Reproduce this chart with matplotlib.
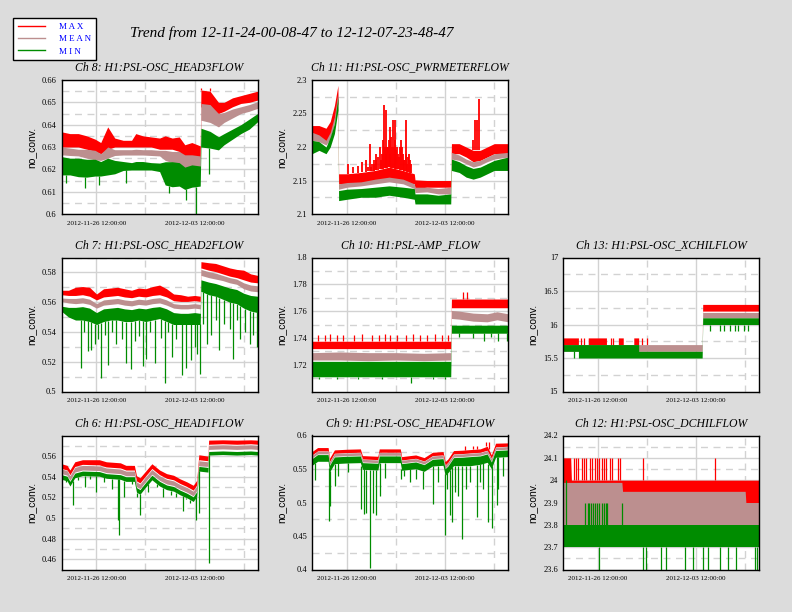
import numpy as np
import matplotlib
matplotlib.use('Agg')
import matplotlib.pyplot as plt
from matplotlib.ticker import FixedLocator, FuncFormatter
from matplotlib.lines import Line2D
from datetime import datetime

# time axis: days since start of trend
start = datetime(2012, 11, 24, 0, 8, 47)
end = datetime(2012, 12, 7, 23, 48, 47)
tick_dates = [datetime(2012, 11, 26, 12), datetime(2012, 12, 3, 12)]
tick_labels = ['2012-11-26 12:00:00', '2012-12-03 12:00:00']
minor_dates = [datetime(2012, 11, 30, 0), datetime(2012, 12, 7, 0)]

# ---- Ch 8: H1:PSL-OSC_HEAD3FLOW
ch8_t = [0, 0.6, 1.2, 1.8, 2.4, 2.8, 3.3, 3.8, 4.4, 5.0, 5.3, 5.8, 6.4, 7.0, 7.4, 7.9, 8.4, 8.8, 9.3, 9.9, 9.95, 10.6, 11.2, 11.6, 12.2, 12.8, 13.4, 13.99]
ch8_max_hi = [0.6368, 0.636, 0.636, 0.635, 0.6335, 0.632, 0.639, 0.634, 0.633, 0.633, 0.636, 0.635, 0.6345, 0.634, 0.635, 0.634, 0.6345, 0.631, 0.632, 0.6305, 0.6555, 0.655, 0.650, 0.650, 0.652, 0.653, 0.654, 0.655]
ch8_max_lo = [0.630, 0.630, 0.630, 0.629, 0.628, 0.627, 0.629, 0.630, 0.630, 0.630, 0.630, 0.630, 0.630, 0.629, 0.629, 0.629, 0.628, 0.624, 0.626, 0.625, 0.648, 0.646, 0.645, 0.646, 0.648, 0.6495, 0.650, 0.651]
ch8_mean_hi = [0.630, 0.6295, 0.629, 0.629, 0.6285, 0.627, 0.630, 0.6288, 0.6288, 0.6288, 0.629, 0.6288, 0.6288, 0.6285, 0.6285, 0.628, 0.628, 0.6265, 0.6265, 0.626, 0.6495, 0.649, 0.645, 0.6455, 0.647, 0.648, 0.649, 0.6503]
ch8_mean_lo = [0.6265, 0.6262, 0.626, 0.625, 0.6242, 0.624, 0.625, 0.6262, 0.6264, 0.6264, 0.6264, 0.6264, 0.6262, 0.626, 0.624, 0.623, 0.622, 0.620, 0.621, 0.6205, 0.642, 0.641, 0.639, 0.641, 0.643, 0.645, 0.646, 0.6473]
ch8_min_hi = [0.6257, 0.625, 0.625, 0.6245, 0.6245, 0.6235, 0.625, 0.624, 0.6235, 0.623, 0.6235, 0.6235, 0.623, 0.6228, 0.6234, 0.6234, 0.623, 0.621, 0.622, 0.6215, 0.6384, 0.637, 0.6346, 0.636, 0.638, 0.640, 0.6425, 0.645]
ch8_min_lo = [0.6175, 0.6175, 0.6167, 0.6165, 0.617, 0.617, 0.6175, 0.618, 0.6195, 0.6197, 0.6197, 0.6197, 0.6197, 0.619, 0.613, 0.6122, 0.6125, 0.611, 0.612, 0.6125, 0.630, 0.6295, 0.6287, 0.631, 0.6335, 0.636, 0.638, 0.6413]
ch8_max_spk_t = [9.97, 10.6]
ch8_max_spk_v = [0.6563, 0.6563]
ch8_min_spk_t = [0.3, 1.7, 2.7, 4.6, 7.7, 8.9, 9.6, 10.55]
ch8_min_spk_v = [0.6137, 0.6115, 0.613, 0.6137, 0.6093, 0.6063, 0.600, 0.618]

# ---- Ch 11: H1:PSL-OSC_PWRMETERFLOW
ch11_t = [0, 0.5, 1.0, 1.3, 1.6, 1.85, 1.9, 2.5, 3.5, 4.5, 5.5, 6.5, 7.3, 7.35, 8.2, 9.0, 9.9, 9.95, 10.5, 11.0, 11.5, 12.0, 12.5, 13.0, 13.99]
ch11_max_hi = [2.232, 2.232, 2.228, 2.238, 2.262, 2.292, 2.16, 2.16, 2.162, 2.165, 2.17, 2.165, 2.16, 2.151, 2.15, 2.15, 2.15, 2.205, 2.205, 2.2, 2.195, 2.195, 2.2, 2.205, 2.205]
ch11_max_lo = [2.212, 2.215, 2.208, 2.215, 2.24, 2.265, 2.145, 2.145, 2.147, 2.148, 2.15, 2.148, 2.145, 2.138, 2.14, 2.14, 2.14, 2.19, 2.19, 2.185, 2.178, 2.18, 2.185, 2.19, 2.19]
ch11_mean_hi = [2.222, 2.218, 2.21, 2.222, 2.245, 2.282, 2.145, 2.147, 2.148, 2.152, 2.155, 2.152, 2.145, 2.14, 2.14, 2.138, 2.14, 2.192, 2.188, 2.182, 2.178, 2.18, 2.185, 2.19, 2.192]
ch11_mean_lo = [2.21, 2.208, 2.203, 2.212, 2.235, 2.268, 2.137, 2.14, 2.142, 2.145, 2.148, 2.145, 2.138, 2.132, 2.133, 2.13, 2.13, 2.182, 2.18, 2.175, 2.17, 2.173, 2.178, 2.182, 2.185]
ch11_min_hi = [2.21, 2.208, 2.2, 2.215, 2.235, 2.275, 2.135, 2.137, 2.138, 2.14, 2.142, 2.14, 2.138, 2.13, 2.13, 2.128, 2.13, 2.182, 2.178, 2.172, 2.168, 2.17, 2.175, 2.18, 2.185]
ch11_min_lo = [2.19, 2.195, 2.19, 2.2, 2.22, 2.255, 2.12, 2.122, 2.125, 2.125, 2.128, 2.125, 2.122, 2.115, 2.115, 2.115, 2.115, 2.165, 2.162, 2.155, 2.152, 2.155, 2.16, 2.165, 2.165]
ch11_max_spk_t = [2.6, 2.9, 3.3, 3.6, 3.88, 4.0, 4.12, 4.2, 4.31, 4.4, 4.45, 4.55, 4.6, 4.7, 4.83, 4.9, 5.0, 5.05, 5.14, 5.2, 5.25, 5.31, 5.37, 5.43, 5.5, 5.55, 5.6, 5.65, 5.7, 5.79, 5.85, 5.9, 5.95, 6.0, 6.05, 6.14, 6.2, 6.25, 6.33, 6.4, 6.5, 6.55, 6.6, 6.7, 6.74, 6.8, 6.85, 6.93, 7.0, 7.1, 11.5, 11.62, 11.79, 11.93]
ch11_max_spk_v = [2.175, 2.17, 2.172, 2.178, 2.18, 2.17, 2.205, 2.17, 2.175, 2.18, 2.175, 2.19, 2.18, 2.185, 2.2, 2.18, 2.19, 2.21, 2.262, 2.2, 2.19, 2.255, 2.2, 2.2, 2.21, 2.19, 2.23, 2.215, 2.2, 2.24, 2.2, 2.24, 2.21, 2.195, 2.2, 2.19, 2.185, 2.2, 2.21, 2.2, 2.19, 2.18, 2.18, 2.19, 2.24, 2.175, 2.185, 2.19, 2.18, 2.175, 2.21, 2.24, 2.24, 2.272]

# ---- Ch 7: H1:PSL-OSC_HEAD2FLOW
ch7_t = [0, 0.5, 1.0, 1.5, 2.0, 2.5, 3.0, 3.5, 4.0, 4.5, 5.0, 5.5, 6.0, 6.5, 7.0, 7.5, 8.0, 8.5, 9.0, 9.5, 9.9, 9.95, 10.5, 11.0, 11.5, 12.0, 12.5, 13.0, 13.5, 13.99]
ch7_max_hi = [0.568, 0.568, 0.570, 0.5705, 0.570, 0.5655, 0.569, 0.5695, 0.570, 0.569, 0.568, 0.5695, 0.569, 0.5705, 0.5715, 0.569, 0.5655, 0.565, 0.564, 0.5645, 0.564, 0.5872, 0.5865, 0.586, 0.5845, 0.583, 0.582, 0.5815, 0.579, 0.578]
ch7_max_lo = [0.565, 0.5645, 0.5645, 0.565, 0.564, 0.5615, 0.5635, 0.564, 0.5645, 0.5635, 0.563, 0.564, 0.5635, 0.5645, 0.565, 0.5635, 0.561, 0.5605, 0.5605, 0.561, 0.5605, 0.583, 0.5815, 0.5805, 0.579, 0.5775, 0.5765, 0.575, 0.5735, 0.573]
ch7_mean_hi = [0.5628, 0.5625, 0.5625, 0.563, 0.562, 0.559, 0.5615, 0.562, 0.5625, 0.5615, 0.561, 0.562, 0.5615, 0.5625, 0.563, 0.5615, 0.559, 0.5585, 0.5585, 0.559, 0.5585, 0.582, 0.5805, 0.5795, 0.578, 0.5765, 0.5755, 0.573, 0.5715, 0.571]
ch7_mean_lo = [0.5605, 0.5595, 0.559, 0.5595, 0.5585, 0.556, 0.558, 0.5585, 0.559, 0.558, 0.5575, 0.5585, 0.558, 0.559, 0.5595, 0.558, 0.556, 0.5555, 0.5555, 0.556, 0.5555, 0.578, 0.5765, 0.5755, 0.5745, 0.573, 0.572, 0.569, 0.5675, 0.567]
ch7_min_hi = [0.5573, 0.5565, 0.5565, 0.557, 0.556, 0.553, 0.5555, 0.556, 0.5565, 0.5555, 0.555, 0.556, 0.5555, 0.5565, 0.557, 0.5555, 0.553, 0.5525, 0.5525, 0.553, 0.5525, 0.575, 0.5735, 0.5725, 0.571, 0.5695, 0.5685, 0.566, 0.5645, 0.564]
ch7_min_lo = [0.5539, 0.550, 0.548, 0.548, 0.547, 0.545, 0.547, 0.548, 0.548, 0.547, 0.547, 0.548, 0.547, 0.548, 0.549, 0.547, 0.545, 0.545, 0.545, 0.545, 0.545, 0.5673, 0.565, 0.564, 0.562, 0.560, 0.559, 0.556, 0.554, 0.553]
ch7_min_spk_t = [1.36, 1.6, 1.9, 2.14, 2.38, 2.6, 2.81, 3.1, 3.33, 3.6, 3.88, 4.3, 4.6, 4.95, 5.24, 5.5, 5.79, 6.02, 6.3, 6.67, 7.1, 7.4, 7.6, 7.86, 8.2, 8.57, 8.88, 9.21, 9.5, 9.7, 9.88, 10.1, 10.36, 10.7, 11.0, 11.26, 11.6, 12.0, 12.26, 12.5, 12.74, 13.1, 13.45, 13.7, 13.93]
ch7_min_spk_v = [0.516, 0.54, 0.527, 0.528, 0.532, 0.535, 0.509, 0.538, 0.518, 0.54, 0.532, 0.535, 0.519, 0.515, 0.534, 0.537, 0.517, 0.522, 0.54, 0.519, 0.536, 0.506, 0.54, 0.523, 0.535, 0.511, 0.516, 0.521, 0.53, 0.525, 0.512, 0.545, 0.532, 0.538, 0.548, 0.528, 0.545, 0.542, 0.522, 0.548, 0.535, 0.54, 0.532, 0.538, 0.530]

# ---- Ch 10: H1:PSL-AMP_FLOW
ch10_t = [0, 2, 4, 6, 8, 9.9, 9.95, 10.5, 11.5, 12.5, 13.2, 13.99]
ch10_max_hi = [1.7375, 1.7375, 1.7375, 1.7375, 1.7375, 1.7375, 1.769, 1.769, 1.769, 1.769, 1.769, 1.769]
ch10_max_lo = [1.732, 1.732, 1.732, 1.732, 1.732, 1.732, 1.7625, 1.7625, 1.7625, 1.7625, 1.7625, 1.7625]
ch10_mean_hi = [1.729, 1.7295, 1.729, 1.729, 1.7285, 1.729, 1.7605, 1.760, 1.7585, 1.758, 1.7595, 1.758]
ch10_mean_lo = [1.7235, 1.7235, 1.723, 1.7235, 1.723, 1.7235, 1.7545, 1.754, 1.7525, 1.752, 1.7535, 1.752]
ch10_min_hi = [1.7225, 1.7225, 1.7225, 1.7225, 1.7225, 1.7225, 1.7495, 1.7495, 1.7495, 1.7495, 1.7495, 1.7495]
ch10_min_lo = [1.711, 1.711, 1.711, 1.711, 1.711, 1.711, 1.7435, 1.7435, 1.7435, 1.7435, 1.7435, 1.7435]
ch10_max_spk_t = [0.4, 0.9, 1.3, 1.8, 2.2, 3.0, 3.6, 4.3, 4.8, 5.2, 5.6, 6.1, 6.7, 7.2, 7.7, 8.2, 8.8, 9.3, 9.7, 10.8, 11.05]
ch10_max_spk_v = [1.7425, 1.742, 1.743, 1.742, 1.7425, 1.742, 1.743, 1.742, 1.7425, 1.743, 1.742, 1.7425, 1.742, 1.743, 1.7425, 1.742, 1.743, 1.7425, 1.742, 1.774, 1.774]
ch10_min_spk_t = [0.5, 1.8, 3.3, 5.0, 7.1, 8.6, 9.5, 10.5, 11.5, 12.3, 12.8, 13.3, 13.9]
ch10_min_spk_v = [1.709, 1.7095, 1.709, 1.7095, 1.706, 1.709, 1.7095, 1.741, 1.740, 1.738, 1.741, 1.738, 1.738]

# ---- Ch 13: H1:PSL-OSC_XCHILFLOW
ch13_t = [0, 1.1, 1.1, 1.8, 1.8, 3.1, 3.1, 3.95, 3.95, 4.3, 4.3, 5.05, 5.05, 5.4, 5.4, 9.93, 9.97, 13.99]
ch13_max_hi = [15.8, 15.8, 15.7, 15.7, 15.8, 15.8, 15.7, 15.7, 15.8, 15.8, 15.7, 15.7, 15.8, 15.8, 15.7, 15.7, 16.3, 16.3]
ch13_max_lo = [15.7, 15.7, 15.7, 15.7, 15.7, 15.7, 15.7, 15.7, 15.7, 15.7, 15.7, 15.7, 15.7, 15.7, 15.7, 15.7, 16.2, 16.2]
ch13_mean_hi = [15.7, 15.7, 15.7, 15.7, 15.7, 15.7, 15.7, 15.7, 15.7, 15.7, 15.7, 15.7, 15.7, 15.7, 15.7, 15.7, 16.18, 16.18]
ch13_mean_lo = [15.6, 15.6, 15.6, 15.6, 15.6, 15.6, 15.6, 15.6, 15.6, 15.6, 15.6, 15.6, 15.6, 15.6, 15.6, 15.6, 16.1, 16.1]
ch13_min_hi = [15.7, 15.7, 15.7, 15.7, 15.7, 15.7, 15.7, 15.7, 15.7, 15.7, 15.7, 15.7, 15.7, 15.7, 15.6, 15.6, 16.1, 16.1]
ch13_min_lo = [15.6, 15.6, 15.5, 15.5, 15.5, 15.5, 15.5, 15.5, 15.5, 15.5, 15.5, 15.5, 15.5, 15.5, 15.5, 15.5, 16.0, 16.0]
ch13_max_spk_t = [1.3, 1.5, 3.4, 3.6, 5.65, 6.0]
ch13_max_spk_v = [15.8, 15.8, 15.8, 15.8, 15.8, 15.8]
ch13_min_spk_t = [0.8, 10.5, 11.2, 11.5, 11.9, 12.3, 12.5, 12.9, 13.2]
ch13_min_spk_v = [15.5, 15.9, 15.9, 15.9, 15.9, 15.9, 15.9, 15.9, 15.9]

# ---- Ch 6: H1:PSL-OSC_HEAD1FLOW
ch6_t = [0, 0.4, 0.6, 0.95, 1.5, 2.7, 3.2, 4.2, 4.6, 5.2, 5.35, 5.6, 5.95, 6.45, 7.0, 7.5, 8.0, 8.45, 8.95, 9.4, 9.65, 9.8, 10.45, 10.5, 11.5, 12.5, 13.5, 13.99]
ch6_max_hi = [0.5526, 0.551, 0.5465, 0.5545, 0.5565, 0.5565, 0.5545, 0.5535, 0.551, 0.551, 0.541, 0.539, 0.5446, 0.5526, 0.5465, 0.543, 0.5414, 0.538, 0.535, 0.5317, 0.5365, 0.5613, 0.560, 0.5755, 0.5758, 0.5755, 0.5758, 0.5755]
ch6_max_lo = [0.548, 0.5465, 0.542, 0.550, 0.552, 0.5515, 0.5495, 0.5485, 0.5465, 0.5465, 0.536, 0.534, 0.540, 0.548, 0.542, 0.5385, 0.537, 0.5335, 0.5305, 0.527, 0.532, 0.5565, 0.5555, 0.5715, 0.572, 0.5715, 0.572, 0.5715]
ch6_mean_hi = [0.5475, 0.546, 0.541, 0.549, 0.551, 0.5505, 0.5485, 0.5475, 0.5455, 0.5455, 0.535, 0.533, 0.539, 0.547, 0.541, 0.5375, 0.536, 0.5325, 0.5295, 0.526, 0.531, 0.5555, 0.5545, 0.5705, 0.571, 0.5705, 0.571, 0.5705]
ch6_mean_lo = [0.543, 0.5415, 0.5365, 0.5445, 0.5465, 0.546, 0.544, 0.543, 0.541, 0.541, 0.5305, 0.5285, 0.5345, 0.5425, 0.5365, 0.533, 0.5315, 0.528, 0.525, 0.5215, 0.5265, 0.551, 0.55, 0.5665, 0.567, 0.5665, 0.567, 0.5665]
ch6_min_hi = [0.542, 0.5405, 0.5355, 0.5435, 0.5455, 0.545, 0.543, 0.542, 0.540, 0.540, 0.5295, 0.5275, 0.5335, 0.5415, 0.5355, 0.532, 0.5305, 0.527, 0.524, 0.5205, 0.5255, 0.550, 0.549, 0.5645, 0.565, 0.5645, 0.565, 0.5645]
ch6_min_lo = [0.5375, 0.536, 0.531, 0.539, 0.541, 0.5405, 0.5385, 0.5375, 0.5355, 0.5355, 0.525, 0.523, 0.529, 0.537, 0.531, 0.5275, 0.526, 0.5225, 0.5195, 0.516, 0.521, 0.5455, 0.5445, 0.561, 0.5615, 0.561, 0.5615, 0.561]
ch6_min_spk_t = [0.3, 0.83, 1.2, 1.67, 2.0, 2.45, 3.0, 3.6, 4.05, 4.12, 4.45, 5.0, 5.4, 5.6, 6.2, 6.8, 7.26, 7.8, 8.2, 8.69, 8.9, 9.2, 9.62, 9.81, 10.55]
ch6_min_spk_v = [0.535, 0.513, 0.537, 0.530, 0.538, 0.525, 0.535, 0.528, 0.498, 0.483, 0.52, 0.533, 0.52, 0.503, 0.525, 0.53, 0.52, 0.522, 0.52, 0.507, 0.518, 0.515, 0.498, 0.505, 0.456]

# ---- Ch 9: H1:PSL-OSC_HEAD4FLOW
ch9_t = [0, 0.4, 1.15, 1.25, 1.6, 2.5, 3.45, 3.6, 4.7, 4.8, 6.3, 6.4, 7.4, 8.0, 8.6, 9.35, 9.5, 9.7, 10.1, 10.7, 11.3, 12.0, 12.5, 12.8, 13.1, 13.99]
ch9_max_hi = [0.576, 0.582, 0.582, 0.566, 0.5785, 0.5795, 0.58, 0.57, 0.569, 0.58, 0.58, 0.5685, 0.571, 0.567, 0.575, 0.576, 0.561, 0.565, 0.5775, 0.578, 0.579, 0.58, 0.584, 0.571, 0.5885, 0.589]
ch9_max_lo = [0.571, 0.577, 0.577, 0.561, 0.5735, 0.5745, 0.575, 0.565, 0.564, 0.575, 0.575, 0.5635, 0.566, 0.562, 0.57, 0.571, 0.556, 0.56, 0.5725, 0.573, 0.574, 0.575, 0.578, 0.566, 0.583, 0.584]
ch9_mean_hi = [0.5705, 0.5765, 0.5765, 0.5605, 0.573, 0.574, 0.5745, 0.5645, 0.5635, 0.5745, 0.5745, 0.563, 0.5655, 0.5615, 0.5695, 0.5705, 0.5555, 0.5595, 0.572, 0.5725, 0.5735, 0.5745, 0.5775, 0.5655, 0.5825, 0.5835]
ch9_mean_lo = [0.5665, 0.5725, 0.5725, 0.5565, 0.569, 0.570, 0.5705, 0.5605, 0.5595, 0.5705, 0.5705, 0.559, 0.5615, 0.5575, 0.5655, 0.5665, 0.5515, 0.5555, 0.568, 0.5685, 0.5695, 0.5705, 0.5735, 0.5615, 0.5785, 0.5795]
ch9_min_hi = [0.5655, 0.5715, 0.5715, 0.5555, 0.568, 0.569, 0.5695, 0.5595, 0.5585, 0.5695, 0.5695, 0.558, 0.5605, 0.5565, 0.5645, 0.5655, 0.5505, 0.5545, 0.567, 0.5675, 0.5685, 0.5695, 0.5725, 0.5605, 0.5775, 0.5785]
ch9_min_lo = [0.5555, 0.5615, 0.5615, 0.5455, 0.558, 0.559, 0.5595, 0.5495, 0.5485, 0.5595, 0.5595, 0.548, 0.5505, 0.5465, 0.5545, 0.5555, 0.5405, 0.5445, 0.555, 0.555, 0.555, 0.557, 0.56, 0.5505, 0.5675, 0.5685]
ch9_max_spk_t = [10.9, 11.5, 11.8, 12.45, 12.6, 13.5]
ch9_max_spk_v = [0.584, 0.585, 0.585, 0.59, 0.59, 0.589]
ch9_min_spk_t = [0.2, 1.21, 1.31, 1.62, 1.86, 2.6, 3.52, 3.69, 3.88, 4.12, 4.36, 4.6, 4.83, 5.19, 6.38, 6.6, 6.98, 7.45, 7.93, 8.6, 9.0, 9.48, 9.65, 9.83, 10.02, 10.2, 10.43, 10.71, 11.02, 11.3, 11.74, 12.0, 12.21, 12.57, 12.88, 13.17, 13.3, 13.64]
ch9_min_spk_v = [0.5335, 0.472, 0.495, 0.525, 0.54, 0.545, 0.49, 0.4835, 0.485, 0.402, 0.485, 0.482, 0.51, 0.537, 0.535, 0.54, 0.53, 0.535, 0.52, 0.4985, 0.53, 0.451, 0.52, 0.481, 0.471, 0.515, 0.51, 0.446, 0.52, 0.53, 0.4785, 0.53, 0.52, 0.471, 0.4625, 0.496, 0.52, 0.54]

# ---- Ch 12: H1:PSL-OSC_DCHILFLOW
ch12_t = [0, 0.55, 0.6, 4.2, 4.25, 13.0, 13.05, 13.99]
ch12_max_hi = [24.1, 24.1, 24.0, 24.0, 24.0, 24.0, 24.0, 24.0]
ch12_max_lo = [23.85, 23.85, 23.85, 23.85, 23.85, 23.85, 23.85, 23.85]
ch12_mean_hi = [23.99, 23.99, 23.99, 23.99, 23.95, 23.95, 23.9, 23.9]
ch12_mean_lo = [23.8, 23.8, 23.8, 23.8, 23.8, 23.8, 23.8, 23.8]
ch12_min_hi = [23.8, 23.8, 23.8, 23.8, 23.8, 23.8, 23.8, 23.8]
ch12_min_lo = [23.7, 23.7, 23.7, 23.7, 23.7, 23.7, 23.7, 23.7]
ch12_max_spk_t = [0.75, 0.95, 1.1, 1.35, 1.5, 1.65, 1.9, 2.05, 2.3, 2.45, 2.6, 2.75, 2.95, 3.1, 3.35, 3.5, 3.9, 4.05, 5.7, 10.83]
ch12_max_spk_v = [24.1, 24.1, 24.1, 24.1, 24.1, 24.1, 24.1, 24.1, 24.1, 24.1, 24.1, 24.1, 24.1, 24.1, 24.1, 24.1, 24.1, 24.1, 24.1, 24.1]
ch12_up_spk_t = [0.24, 1.6, 1.75, 1.85, 2.0, 2.15, 2.3, 2.45, 2.6, 2.75, 2.9, 3.05, 3.15, 4.21]
ch12_up_spk_v = [24.0, 23.9, 23.9, 23.9, 23.9, 23.9, 23.9, 23.9, 23.9, 23.9, 23.9, 23.9, 23.9, 23.9]
ch12_min_spk_t = [2.57, 5.71, 5.95, 7.02, 7.38, 8.69, 9.29, 10.0, 10.36, 11.2, 11.79, 12.38, 13.69, 13.81]
ch12_min_spk_v = [23.6, 23.6, 23.6, 23.6, 23.6, 23.6, 23.6, 23.6, 23.6, 23.6, 23.6, 23.6, 23.6, 23.6]

RED = '#ff0000'
MEAN = '#bc8f8f'
GREEN = '#008c00'
BG = '#dcdcdc'
GRID = '#d2d2d2'
SERIF = 'Liberation Serif'


def days(d):
    return (d - start).total_seconds() / 86400.0


def band(ax, t, hi, lo, color):
    ax.fill_between(t, lo, hi, color=color, lw=0, zorder=2)


def spikes(ax, st, sv, t, edge, color, lw=0.9):
    base = np.interp(st, t, edge)
    ax.vlines(st, sv, base, color=color, lw=lw, zorder=2)


def setup(ax, title, ylim, major, minor):
    ax.set_facecolor('white')
    ax.set_xlim(0, days(end))
    ax.set_ylim(*ylim)
    ax.xaxis.set_major_locator(FixedLocator([days(d) for d in tick_dates]))
    ax.xaxis.set_minor_locator(FixedLocator([days(d) for d in minor_dates]))
    ax.set_xticklabels(tick_labels)
    ax.yaxis.set_major_locator(FixedLocator(major))
    ax.yaxis.set_minor_locator(FixedLocator(minor))
    ax.yaxis.set_major_formatter(FuncFormatter(lambda v, p: '%g' % round(v, 6)))
    ax.grid(which='major', color=GRID, ls='-', lw=1)
    ax.grid(which='minor', color=GRID, ls=(0, (5, 4)), lw=1)
    ax.set_axisbelow(True)
    ax.tick_params(which='both', length=0)
    ax.tick_params(axis='y', pad=3.5, labelsize=6)
    ax.tick_params(axis='x', pad=5, labelsize=5)
    for lab in ax.get_xticklabels() + ax.get_yticklabels():
        lab.set_family(SERIF)
    for s in ax.spines.values():
        s.set_color('black')
        s.set_linewidth(1)
        s.set_zorder(5)
    ax.set_title(title, family=SERIF, style='italic', fontsize=8.5, pad=7)
    ax.set_ylabel('no_conv.', family='Liberation Sans', fontsize=7.5, labelpad=4)


def draw(ax, t, mx_hi, mx_lo, mn_hi, mn_lo, lo_hi, lo_lo,
         max_spk=None, min_spk=None, up_spk=None, spk_lw=0.9):
    band(ax, t, mx_hi, mx_lo, RED)
    if max_spk:
        spikes(ax, max_spk[0], max_spk[1], t, mx_hi, RED, spk_lw)
    band(ax, t, mn_hi, mn_lo, MEAN)
    band(ax, t, lo_hi, lo_lo, GREEN)
    if up_spk:
        spikes(ax, up_spk[0], up_spk[1], t, lo_hi, GREEN)
    if min_spk:
        spikes(ax, min_spk[0], min_spk[1], t, lo_lo, GREEN)


fig = plt.figure(figsize=(7.92, 6.12), dpi=100, facecolor=BG)

W, H = 792.0, 612.0
col_left = [61.5, 312.0, 563.0]
row_top = [80.0, 257.5, 435.5]
aw, ah = 196.0, 134.0


def make_ax(r, c):
    return fig.add_axes([col_left[c] / W, 1 - (row_top[r] + ah) / H, aw / W, ah / H])


def steps(a, b, s):
    out = []
    v = a
    while v <= b + 1e-9:
        out.append(round(v, 6))
        v += s
    return out


ax = make_ax(0, 0)
draw(ax, ch8_t, ch8_max_hi, ch8_max_lo, ch8_mean_hi, ch8_mean_lo, ch8_min_hi, ch8_min_lo,
     max_spk=(ch8_max_spk_t, ch8_max_spk_v), min_spk=(ch8_min_spk_t, ch8_min_spk_v))
setup(ax, 'Ch 8: H1:PSL-OSC_HEAD3FLOW', (0.6, 0.66), steps(0.6, 0.66, 0.01), steps(0.605, 0.66, 0.01))

ax = make_ax(0, 1)
draw(ax, ch11_t, ch11_max_hi, ch11_max_lo, ch11_mean_hi, ch11_mean_lo, ch11_min_hi, ch11_min_lo,
     max_spk=(ch11_max_spk_t, ch11_max_spk_v), spk_lw=1.3)
setup(ax, 'Ch 11: H1:PSL-OSC_PWRMETERFLOW', (2.1, 2.3), steps(2.1, 2.3, 0.05), steps(2.125, 2.3, 0.05))

ax = make_ax(1, 0)
draw(ax, ch7_t, ch7_max_hi, ch7_max_lo, ch7_mean_hi, ch7_mean_lo, ch7_min_hi, ch7_min_lo,
     min_spk=(ch7_min_spk_t, ch7_min_spk_v))
setup(ax, 'Ch 7: H1:PSL-OSC_HEAD2FLOW', (0.5, 0.59), steps(0.5, 0.58, 0.02), steps(0.51, 0.59, 0.02))

ax = make_ax(1, 1)
draw(ax, ch10_t, ch10_max_hi, ch10_max_lo, ch10_mean_hi, ch10_mean_lo, ch10_min_hi, ch10_min_lo,
     max_spk=(ch10_max_spk_t, ch10_max_spk_v), min_spk=(ch10_min_spk_t, ch10_min_spk_v))
setup(ax, 'Ch 10: H1:PSL-AMP_FLOW', (1.7, 1.8), steps(1.72, 1.8, 0.02), steps(1.71, 1.8, 0.02))

ax = make_ax(1, 2)
draw(ax, ch13_t, ch13_max_hi, ch13_max_lo, ch13_mean_hi, ch13_mean_lo, ch13_min_hi, ch13_min_lo,
     max_spk=(ch13_max_spk_t, ch13_max_spk_v), min_spk=(ch13_min_spk_t, ch13_min_spk_v))
setup(ax, 'Ch 13: H1:PSL-OSC_XCHILFLOW', (15, 17), steps(15, 17, 0.5), steps(15.25, 17, 0.5))

ax = make_ax(2, 0)
draw(ax, ch6_t, ch6_max_hi, ch6_max_lo, ch6_mean_hi, ch6_mean_lo, ch6_min_hi, ch6_min_lo,
     min_spk=(ch6_min_spk_t, ch6_min_spk_v))
setup(ax, 'Ch 6: H1:PSL-OSC_HEAD1FLOW', (0.45, 0.58), steps(0.46, 0.56, 0.02), steps(0.47, 0.58, 0.02))

ax = make_ax(2, 1)
draw(ax, ch9_t, ch9_max_hi, ch9_max_lo, ch9_mean_hi, ch9_mean_lo, ch9_min_hi, ch9_min_lo,
     max_spk=(ch9_max_spk_t, ch9_max_spk_v), min_spk=(ch9_min_spk_t, ch9_min_spk_v))
setup(ax, 'Ch 9: H1:PSL-OSC_HEAD4FLOW', (0.4, 0.6), steps(0.4, 0.6, 0.05), steps(0.425, 0.6, 0.05))

ax = make_ax(2, 2)
draw(ax, ch12_t, ch12_max_hi, ch12_max_lo, ch12_mean_hi, ch12_mean_lo, ch12_min_hi, ch12_min_lo,
     max_spk=(ch12_max_spk_t, ch12_max_spk_v), min_spk=(ch12_min_spk_t, ch12_min_spk_v),
     up_spk=(ch12_up_spk_t, ch12_up_spk_v))
setup(ax, 'Ch 12: H1:PSL-OSC_DCHILFLOW', (23.6, 24.2), steps(23.6, 24.2, 0.1), steps(23.65, 24.2, 0.1))

fig.text(292 / W, 1 - 33 / H, 'Trend from 12-11-24-00-08-47 to 12-12-07-23-48-47',
         family=SERIF, style='italic', fontsize=11, ha='center', va='center')

handles = [Line2D([], [], color=RED, lw=1), Line2D([], [], color=MEAN, lw=1), Line2D([], [], color=GREEN, lw=1)]
leg = fig.legend(handles, ['M A X', 'M E A N', 'M I N'], loc='upper left',
                 bbox_to_anchor=(13 / W, 1 - 18 / H), frameon=True, fancybox=False,
                 edgecolor='black', facecolor='white', framealpha=1, labelcolor='blue',
                 prop={'family': SERIF, 'size': 6.5}, handlelength=3, handletextpad=1.6,
                 labelspacing=0.45, borderpad=0.5, borderaxespad=0)
leg.get_frame().set_linewidth(1)
leg.set_zorder(10)

fig.savefig('out.png', dpi=100, facecolor=BG)
